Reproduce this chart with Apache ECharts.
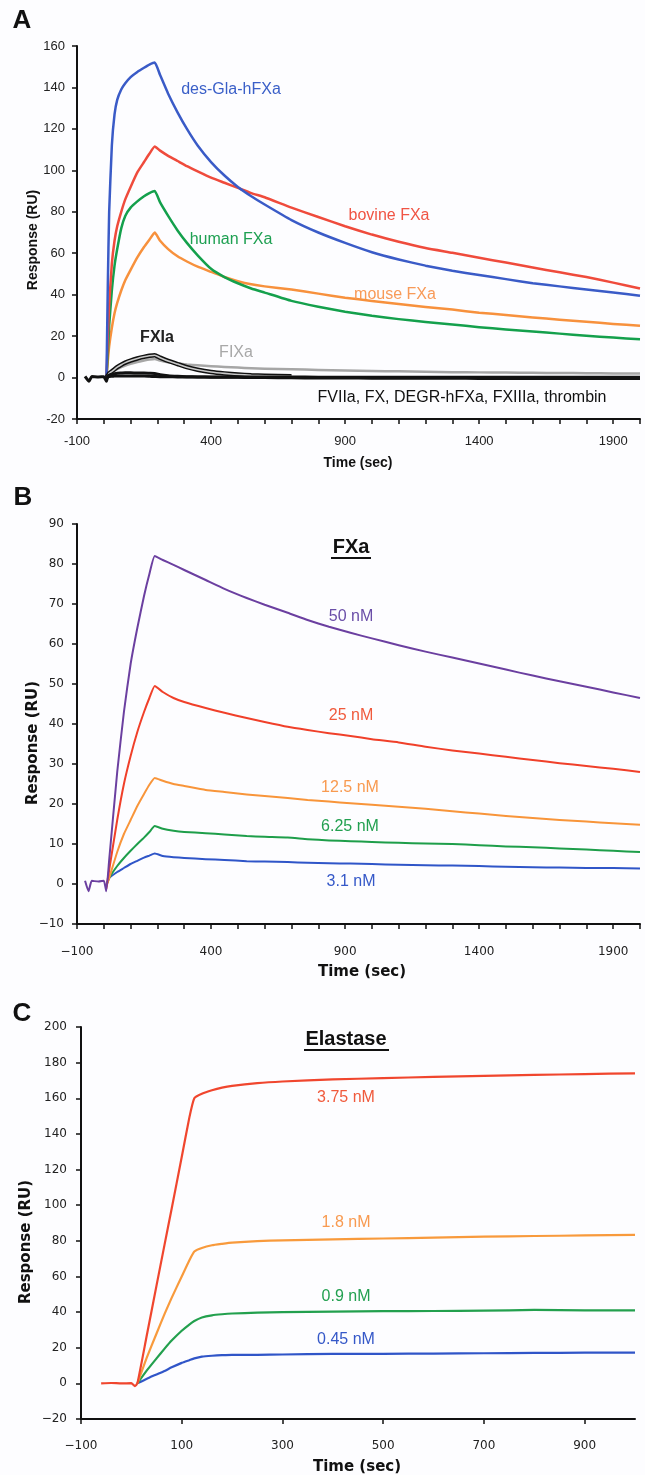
<!DOCTYPE html>
<html><head><meta charset="utf-8">
<script src="https://cdn.jsdelivr.net/npm/echarts@6/dist/echarts.min.js"></script>
<style>html,body{margin:0;padding:0;background:#fdfdff}#c{width:645px;height:1475px}</style>
</head><body><div id="c"></div>
<script>
// ---------- Panel A data ----------
const timeA = [-70,-55,-45,-20,0,10,15,20,30,40,50,65,80,100,125,150,170,190,210,240,275,310,350,400,450,500,550,600,700,800,900,1000,1100,1200,1300,1400,1500,1600,1700,1800,1900,2000];
const desGlaA = [null,null,null,null,null,0,45,80,112,127,134,139,142,145,147.5,149.5,151,152,146,137,128,120,112,104,97.5,92,87.5,83.5,76,70,65,60.5,57,54,51.5,49.5,47.5,45.5,44,42.5,41,39.5];
const bovineA = [null,null,null,null,null,0,20,35,55,66,73,80,86,92,99,104,108,111.5,109.5,107,104.5,102,99.5,96.5,94,91.5,89,87,82,77.5,73,69,65.5,62.5,60.2,57.8,55.5,53.1,50.8,48.5,45.8,43];
const humanA = [null,null,null,null,null,0,12,25,42,54,62,72,78,82,85,87.5,89,90,84.5,78,71,65,59,52.5,48.5,45.5,43,41,37,34.2,31.8,29.8,28.2,26.8,25.6,24.3,23.2,22.2,21.2,20.2,19.3,18.5];
const mouseA = [null,null,null,null,null,0,8,15,24,31,36,42,47,52,58,63,66.5,70,66,62,58.5,56,53.5,51,48.5,46.5,45,44,42.5,40.5,38.5,37,35.5,34,32.8,31.3,30.2,29,27.9,26.9,25.9,25];
const fixaA = [null,null,null,null,null,0,0.8,1.5,2.5,3.3,4,5,5.8,6.6,7.5,8.2,8.7,9,8.2,7.4,6.8,6.3,5.9,5.5,5.1,4.8,4.5,4.3,4,3.7,3.4,3.2,3,2.8,2.6,2.5,2.4,2.3,2.2,2.1,2,1.9];
const fxiaA = [null,null,null,null,null,0,1,2,3,4,5,6.2,7.2,8.2,9.2,10,10.5,10.8,9.6,8,6.5,5,3.8,2.7,2,1.5,1.1,0.9,0.6,null,null,null,null,null,null,null,null,null,null,null,null,null];
const blackA1 = [0.6,-1.8,0.5,0.3,0.4,-1.8,0.8,1.2,1.6,1.9,2.1,2.2,2.3,2.3,2.2,2.2,2.1,2.0,1.4,0.9,0.6,0.4,0.3,0.2,0.1,0.1,0,0,-0.1,-0.2,-0.2,-0.3,-0.3,-0.3,-0.3,-0.4,-0.4,-0.4,-0.4,-0.4,-0.4,-0.4];
const blackA2 = [null,null,null,null,null,-0.5,0.3,0.5,0.6,0.7,0.8,0.8,0.8,0.8,0.7,0.7,0.6,0.5,0.4,0.4,0.3,0.3,0.3,0.3,0.3,0.3,0.3,0.3,0.3,0.2,0.2,0.2,0.2,0.2,0.2,0.2,0.2,0.1,0.1,0.1,0.1,0.1];
const xLabelsA = [-100,400,900,1400,1900];
const xTicksA = [-100,0,100,200,300,400,500,600,700,800,900,1000,1100,1200,1300,1400,1500,1600,1700,1800,1900,2000];

// ---------- Panel B data ----------
const timeB = [-70,-57,-45,-20,0,9,20,50,75,100,125,150,170,190,220,260,300,380,450,533,600,686,760,840,920,1000,1100,1200,1300,1400,1500,1600,1700,1800,1900,2000];
const nM50B = [0.8,-1.8,0.8,0.6,0.8,-1.8,6,28,43,55,64,72,77.5,82,81,79.8,78.5,76,73.8,71.5,69.8,67.8,66,64.3,62.8,61.4,59.7,58.1,56.6,55.1,53.6,52.1,50.7,49.3,47.9,46.5];
const nM25B = [null,null,null,null,null,-1.2,3.5,16,25,32,38,43,46.5,49.5,48,46.5,45.5,44,42.8,41.5,40.5,39.3,38.5,37.7,37,36.2,35.4,34.3,33.4,32.6,31.8,31,30.2,29.5,28.8,28];
const nM12B = [null,null,null,null,null,-0.8,1.5,8,12.5,16,19.5,22.5,24.8,26.5,25.8,25,24.5,23.5,23,22.4,22,21.5,21,20.6,20.2,19.8,19.3,18.8,18.2,17.6,17,16.5,16,15.6,15.2,14.8];
const nM6B = [null,null,null,null,null,-0.5,1.5,4.5,6.5,8.3,10,11.6,13,14.5,13.8,13.3,13,12.7,12.4,12,11.8,11.6,11.2,10.9,10.7,10.5,10.3,10.1,10,9.7,9.4,9.2,8.9,8.6,8.3,8];
const nM3B = [null,null,null,null,null,-0.3,1.5,3,4,5,5.8,6.6,7.1,7.6,7,6.7,6.5,6.2,6,5.7,5.6,5.5,5.3,5.2,5.1,5,4.8,4.7,4.6,4.5,4.3,4.2,4.1,4,4,3.9];
const xLabelsB = [-100,400,900,1400,1900];
const xTicksB = [-100,0,100,200,300,400,500,600,700,800,900,1000,1100,1200,1300,1400,1500,1600,1700,1800,1900,2000];

// ---------- Panel C data ----------
const timeC = [-60,-40,-20,0,7,12,30,50,66,80,100,115,125,140,160,180,200,250,300,400,500,600,700,800,900,1000];
const nM375C = [0,0.2,0,0.1,-1.5,0,26,55,78,98,127,149,160,162.5,164.5,166,167,168.5,169.4,170.6,171.3,172,172.6,173.1,173.6,174];
const nM18C = [null,null,null,null,null,0,14,28,39,48,60,69,74,76,77.5,78.3,79,79.8,80.3,80.8,81.3,81.8,82.3,82.7,83,83.3];
const nM09C = [null,null,null,null,null,0,7,14,19.5,24,29.5,33,35,37,38.2,38.8,39.2,39.7,40,40.3,40.5,40.6,40.8,41.2,41,41];
const nM045C = [null,null,null,null,null,0,2.5,5,7,9,11.5,13,14,15,15.5,15.8,16,16,16.2,16.5,16.6,16.7,16.9,17.1,17.2,17.2];
const xLabelsC = [-100,100,300,500,700,900];

function pairs(t, v) { const out = []; for (let i = 0; i < t.length; i++) { if (v[i] != null) out.push([t[i], v[i]]); } return out; }

const AX = '#111';
const fontA = '"Liberation Sans", Arial, sans-serif';
const fontB = '"DejaVu Sans", Verdana, sans-serif';
const plainFmt = v => String(v);
const minusFmt = v => String(v).replace('-', '\u2212');

function xAxis(gi, min, max, labels, ticks, family, size, margin, fmt) {
  return {
    type: 'value', gridIndex: gi, min: min, max: max,
    axisLine: { show: true, onZero: false, lineStyle: { color: AX, width: 2 } },
    axisTick: { show: true, length: 5, lineStyle: { color: AX, width: 1.5 }, customValues: ticks },
    axisLabel: { customValues: labels, margin: margin, color: '#222', fontFamily: family, fontSize: size, formatter: fmt },
    splitLine: { show: false }
  };
}
function yAxis(gi, min, max, interval, family, size, margin, fmt) {
  return {
    type: 'value', gridIndex: gi, min: min, max: max, interval: interval,
    axisLine: { show: true, onZero: false, lineStyle: { color: AX, width: 2 } },
    axisTick: { show: true, length: 5, lineStyle: { color: AX, width: 1.5 } },
    axisLabel: { margin: margin, color: '#222', fontFamily: family, fontSize: size, formatter: fmt },
    splitLine: { show: false }
  };
}
function line(xi, t, v, color, width, z) {
  return { type: 'line', xAxisIndex: xi, yAxisIndex: xi, data: pairs(t, v), showSymbol: false, symbol: 'none',
    smooth: 0.15,
    lineStyle: { color: color, width: width, join: 'round' }, z: z || 2, silent: true, animation: false };
}
function txt(text, x, y, fill, size, family, weight, rot) {
  const el = { type: 'text', x: x, y: y, z: 100,
    style: { text: text, x: 0, y: 0, fill: fill, fontSize: size, fontFamily: family, fontWeight: weight || 'normal', align: 'center', verticalAlign: 'middle' } };
  if (rot) el.rotation = rot;
  return el;
}
function uline(x1, x2, y) {
  return { type: 'line', z: 100, shape: { x1: x1, y1: y, x2: x2, y2: y }, style: { stroke: '#111', lineWidth: 1.8 } };
}

const chart = echarts.init(document.getElementById('c'));
chart.setOption({
  backgroundColor: '#fdfdff',
  animation: false,
  grid: [
    { left: 77, top: 46, width: 563, height: 373 },
    { left: 77, top: 524, width: 563, height: 400 },
    { left: 81, top: 1027, width: 554, height: 392 }
  ],
  xAxis: [
    xAxis(0, -100, 2000, xLabelsA, xTicksA, fontA, 13, 16, plainFmt),
    xAxis(1, -100, 2000, xLabelsB, xTicksB, fontB, 12, 22, minusFmt),
    xAxis(2, -100, 1000, xLabelsC, xLabelsC, fontB, 12, 21, minusFmt)
  ],
  yAxis: [
    yAxis(0, -20, 160, 20, fontA, 13, 12, plainFmt),
    yAxis(1, -10, 90, 10, fontB, 12, 13, minusFmt),
    yAxis(2, -20, 200, 20, fontB, 12, 14, minusFmt)
  ],
  series: [
    line(0, timeA, mouseA, '#f7913d', 2.5),
    line(0, timeA, humanA, '#14a04c', 2.5),
    line(0, timeA, bovineA, '#ef4b3c', 2.5),
    line(0, timeA, desGlaA, '#3a5bc7', 2.5),
    line(0, timeA, fixaA, '#a6a6a6', 2.5),
    line(0, timeA, fxiaA, '#111111', 4.5, 3),
    line(0, timeA, fxiaA, '#c8c8c8', 1.6, 4),
    line(0, timeA, blackA2, '#111111', 3, 5),
    line(0, timeA, blackA1, '#111111', 3, 5),

    line(1, timeB, nM3B, '#2f55c8', 2),
    line(1, timeB, nM6B, '#1e9e4a', 2),
    line(1, timeB, nM12B, '#f8953a', 2),
    line(1, timeB, nM25B, '#f0402a', 2),
    line(1, timeB, nM50B, '#6b3fa0', 2),

    line(2, timeC, nM045C, '#3055c8', 2.2),
    line(2, timeC, nM09C, '#23a04e', 2.2),
    line(2, timeC, nM18C, '#f89a3c', 2.2),
    line(2, timeC, nM375C, '#f0462e', 2.2)
  ],
  graphic: [
    // Panel A
    txt('A', 22, 21, '#111', 26, fontA, 'bold'),
    txt('Response (RU)', 33, 240, '#111', 14, fontA, 'bold', Math.PI / 2),
    txt('Time (sec)', 358, 463, '#111', 14, fontA, 'bold'),
    txt('des-Gla-hFXa', 231, 90, '#3a5fc8', 16, fontA),
    txt('bovine FXa', 389, 216, '#f05444', 16, fontA),
    txt('human FXa', 231, 240, '#1ea052', 16, fontA),
    txt('mouse FXa', 395, 295, '#f89a58', 16, fontA),
    txt('FXIa', 157, 338, '#222', 16, fontA, 'bold'),
    txt('FIXa', 236, 353, '#a8a8a8', 16, fontA),
    txt('FVIIa, FX, DEGR-hFXa, FXIIIa, thrombin', 462, 398, '#111', 16, fontA),
    // Panel B
    txt('B', 23, 498, '#111', 26, fontA, 'bold'),
    txt('Response (RU)', 33, 743, '#111', 15, fontB, 'bold', Math.PI / 2),
    txt('Time (sec)', 362, 972, '#111', 15, fontB, 'bold'),
    txt('FXa', 351, 547, '#111', 20, fontA, 'bold'),
    uline(331, 371, 558),
    txt('50 nM', 351, 617, '#6a4ea8', 16, fontA),
    txt('25 nM', 351, 716, '#f05a3c', 16, fontA),
    txt('12.5 nM', 350, 788, '#f89a50', 16, fontA),
    txt('6.25 nM', 350, 827, '#22a050', 16, fontA),
    txt('3.1 nM', 351, 882, '#3558c8', 16, fontA),
    // Panel C
    txt('C', 22, 1014, '#111', 26, fontA, 'bold'),
    txt('Response (RU)', 26, 1242, '#111', 15, fontB, 'bold', Math.PI / 2),
    txt('Time (sec)', 357, 1467, '#111', 15, fontB, 'bold'),
    txt('Elastase', 346, 1039, '#111', 20, fontA, 'bold'),
    uline(304, 389, 1050),
    txt('3.75 nM', 346, 1098, '#f05a3c', 16, fontA),
    txt('1.8 nM', 346, 1223, '#f89a50', 16, fontA),
    txt('0.9 nM', 346, 1297, '#22a050', 16, fontA),
    txt('0.45 nM', 346, 1340, '#3558c8', 16, fontA)
  ]
});
</script>
</body></html>
